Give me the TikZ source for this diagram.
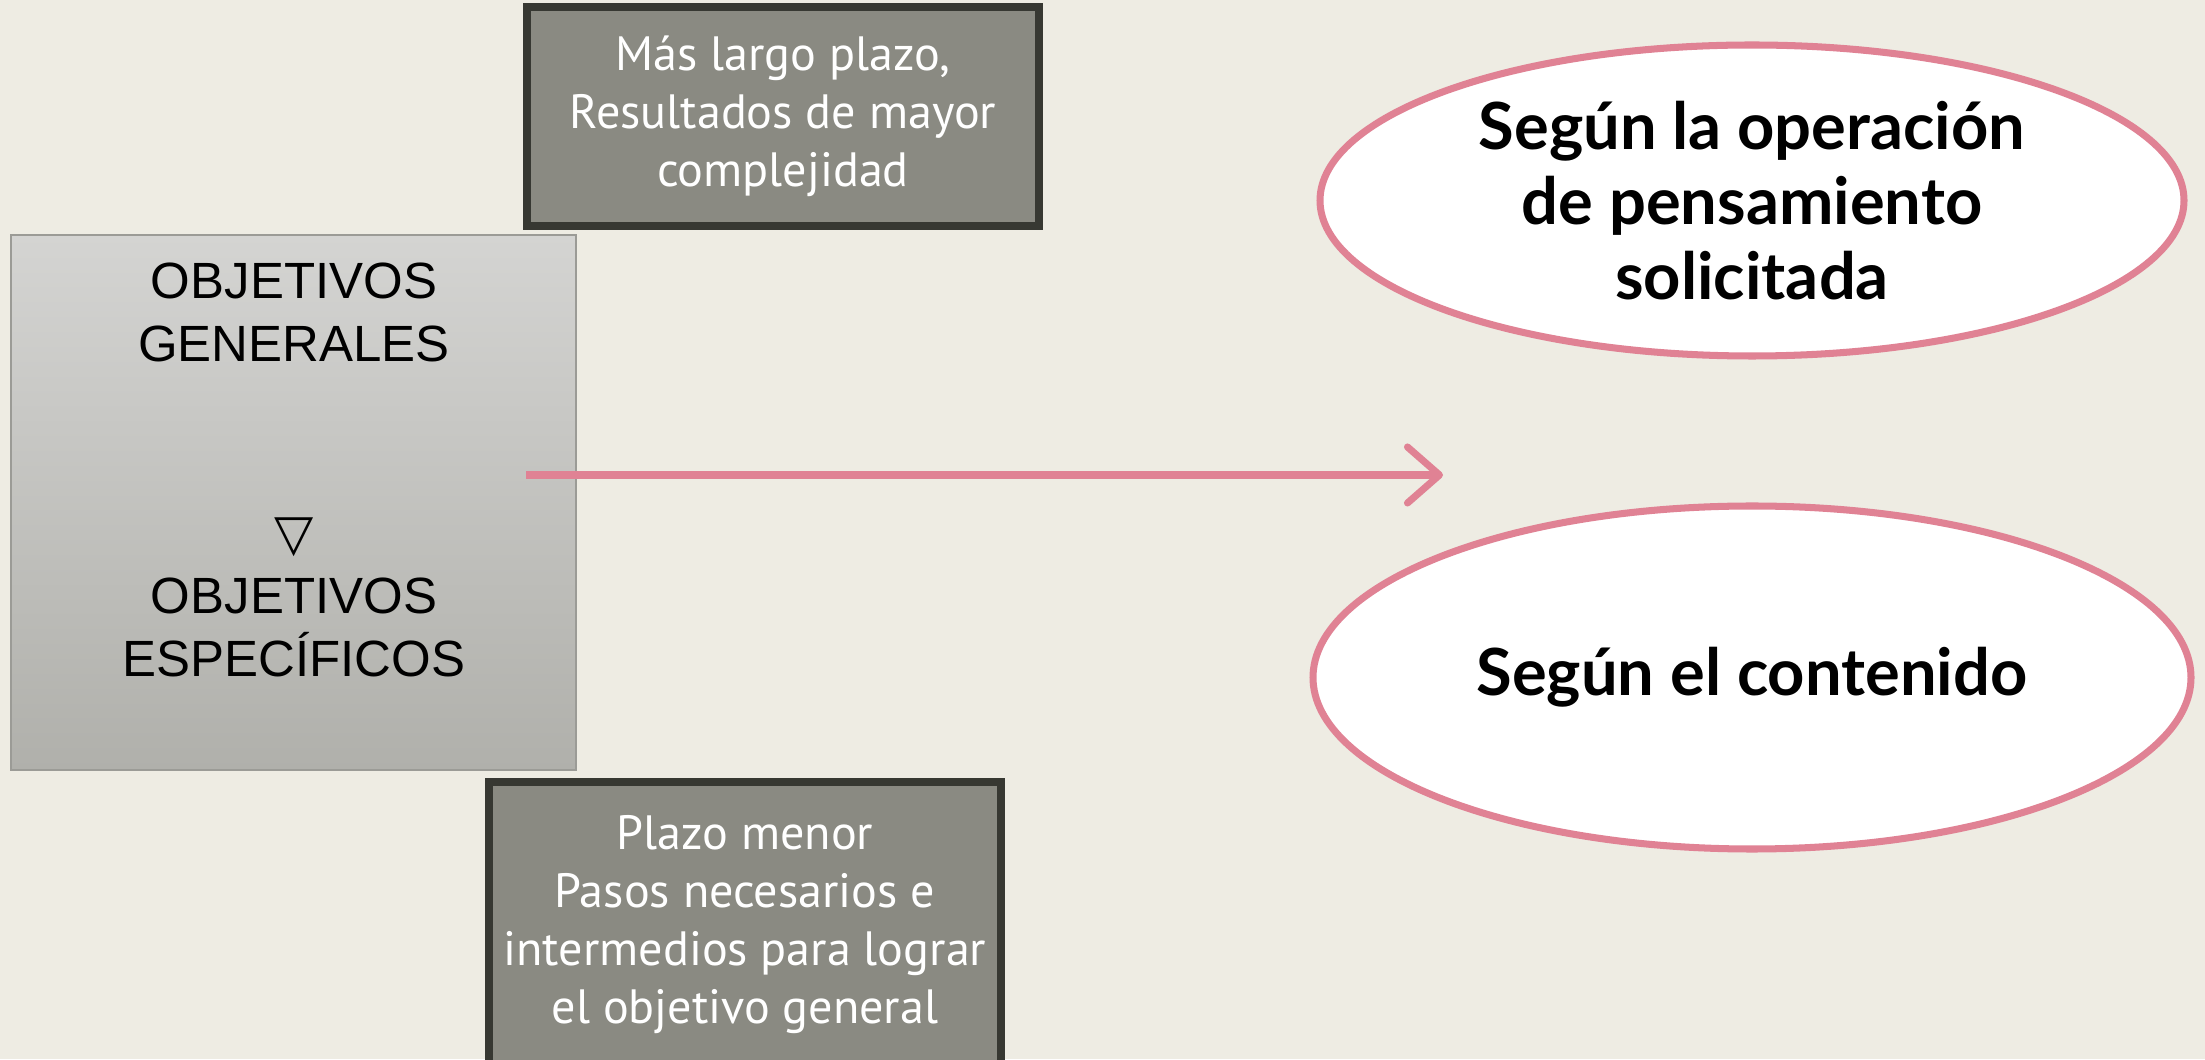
\documentclass[tikz,border=0pt]{standalone}
\usepackage{fontspec}
\setmainfont{Liberation Sans}
\newfontfamily\cajafont{PT Sans}
\newfontfamily\ovalofont{Lato}
\newfontfamily\simbolofont{DejaVu Sans}
\usetikzlibrary{arrows.meta, shapes.geometric, positioning}
\definecolor{fondo}{RGB}{238,236,227}
\definecolor{rosa}{RGB}{224,130,148}
\definecolor{grisplazo}{RGB}{138,138,130}
\definecolor{bordeoscuro}{RGB}{55,56,50}
\definecolor{grisclaro}{RGB}{212,212,210}
\definecolor{grisoscuro}{RGB}{176,176,171}
\definecolor{bordegris}{RGB}{155,155,150}

\begin{document}
\begin{tikzpicture}[
    plazo/.style={draw=bordeoscuro, line width=2pt, fill=grisplazo, text=white,
      minimum width=5.12cm, align=center, inner sep=0pt,
      font=\cajafont\fontsize{13.7}{16.5}\selectfont},
    ovalo/.style={ellipse, draw=rosa, line width=2pt, fill=white, align=center,
      inner sep=0pt, font=\ovalofont\bfseries\fontsize{18.5}{21.3}\selectfont},
    flecha/.style={rosa, line width=2pt,
      -{Straight Barb[length=3.2mm, width=5.6mm, round]}}
  ]
  % fondo y recorte
  \fill[fondo] (0,0) rectangle (22.05,10.59);
  \clip (0,0) rectangle (22.05,10.59);

  % caja de objetivos
  \node[draw=bordegris, line width=0.4pt, top color=grisclaro, bottom color=grisoscuro,
    minimum width=5.65cm, minimum height=5.35cm] (obj) at (2.935,5.565) {};
  \node[align=center, font=\fontsize{14.5}{17.9}\selectfont] (objtxt) at (2.94,5.89)
    {OBJETIVOS\\GENERALES\\[35.7pt]{\simbolofont ▽}\\OBJETIVOS\\ESPECÍFICOS};

  % plazos
  \node[plazo, minimum height=2.19cm] (largo) at (7.83,9.425)
    {Más largo plazo,\\Resultados de mayor\\complejidad};
  \node[plazo, minimum height=2.85cm] (menor) at (7.45,1.345)
    {Plazo menor\\Pasos necesarios e\\intermedios para lograr\\el objetivo general};

  % clasificaciones
  \node[ovalo, minimum width=8.64cm, minimum height=3.11cm] (operacion) at (17.52,8.585)
    {Según la operación\\de pensamiento\\solicitada};
  \node[ovalo, minimum width=8.78cm, minimum height=3.43cm] (contenido) at (17.52,3.815)
    {\raisebox{-0.6mm}{Según el contenido}};

  \coordinate (inicio) at (5.26,5.84);
  \coordinate (fin) at (14.43,5.84);
  \draw[flecha] (inicio) -- (fin);
\end{tikzpicture}
\end{document}
